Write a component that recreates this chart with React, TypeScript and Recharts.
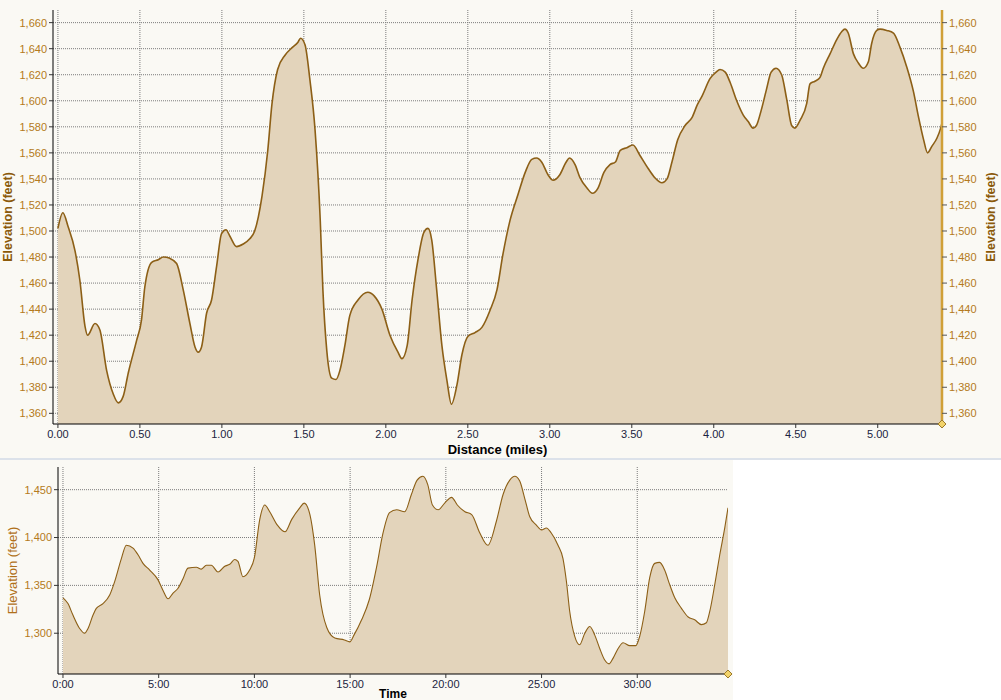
import React from "react";
import { AreaChart, Area, XAxis, YAxis, CartesianGrid, ReferenceDot } from "recharts";

// elevation by distance (miles)
const distanceMiles = [
  0, 0.03, 0.063, 0.104, 0.134, 0.165, 0.181, 0.226, 0.256, 0.297, 0.337, 0.368, 0.398, 0.429, 0.48,
  0.51, 0.53, 0.572, 0.612, 0.643, 0.683, 0.724, 0.764, 0.805, 0.836, 0.856, 0.876, 0.907, 0.937,
  0.968, 0.998, 1.025, 1.049, 1.09, 1.13, 1.17, 1.2, 1.245, 1.28, 1.305, 1.34, 1.385, 1.43, 1.464,
  1.48, 1.507, 1.537, 1.568, 1.6, 1.616, 1.64, 1.67, 1.696, 1.72, 1.75, 1.78, 1.83, 1.89, 1.93,
  1.976, 2.025, 2.074, 2.098, 2.13, 2.16, 2.196, 2.232, 2.257, 2.28, 2.31, 2.342, 2.373, 2.4, 2.434,
  2.464, 2.5, 2.544, 2.586, 2.635, 2.678, 2.714, 2.757, 2.806, 2.85, 2.89, 2.92, 2.95, 2.99, 3.02,
  3.06, 3.1, 3.12, 3.154, 3.184, 3.227, 3.26, 3.294, 3.33, 3.367, 3.4, 3.43, 3.47, 3.507, 3.55, 3.6,
  3.64, 3.684, 3.715, 3.745, 3.78, 3.825, 3.867, 3.9, 3.93, 3.977, 4.014, 4.038, 4.07, 4.1, 4.14,
  4.18, 4.21, 4.24, 4.26, 4.29, 4.32, 4.35, 4.38, 4.414, 4.445, 4.475, 4.495, 4.526, 4.567, 4.587,
  4.617, 4.648, 4.668, 4.709, 4.75, 4.78, 4.8, 4.82, 4.852, 4.882, 4.912, 4.943, 4.963, 4.994,
  5.014, 5.055, 5.096, 5.136, 5.177, 5.218, 5.248, 5.28, 5.304, 5.33, 5.36, 5.384, 5.392,
];
const distanceElev = [
  1502, 1514, 1503, 1485, 1462, 1427, 1420, 1429, 1424, 1393, 1375, 1368, 1373, 1391, 1416,
  1432, 1457, 1476, 1478, 1480, 1479, 1475, 1455, 1429, 1411, 1407, 1411, 1437, 1447,
  1473, 1498, 1501, 1496, 1488, 1490, 1494, 1500, 1527, 1562, 1597, 1624, 1635, 1641, 1645,
  1648, 1643, 1616, 1578, 1508, 1455, 1408, 1387, 1386, 1393, 1412, 1435, 1447, 1453, 1450,
  1440, 1420, 1407, 1402, 1412, 1447, 1478, 1499, 1502, 1493, 1455, 1412, 1385, 1367, 1382,
  1405, 1419, 1422, 1426, 1439, 1455, 1482, 1508, 1528, 1545, 1555, 1556, 1553, 1543, 1539,
  1543, 1553, 1556, 1551, 1541, 1533, 1529, 1533, 1545, 1551, 1553, 1562, 1564, 1566, 1558, 1548,
  1541, 1537, 1540, 1553, 1570, 1581, 1587, 1597, 1604, 1617, 1622, 1624, 1622, 1614, 1600,
  1589, 1584, 1579, 1581, 1593, 1608, 1622, 1625, 1620, 1601, 1581, 1579, 1585, 1598, 1613,
  1615, 1618, 1625, 1636, 1647, 1653, 1655, 1652, 1636, 1629, 1625, 1630, 1644, 1654,
  1655, 1654, 1652, 1641, 1626, 1607, 1588, 1570, 1560, 1565, 1571, 1579, 1583,
];

// elevation by time (minutes)
const timeMinutes = [
  0, 0.26, 0.52, 0.87, 1.13, 1.31, 1.57, 1.74, 2.09, 2.44, 2.7, 3.05, 3.31, 3.66, 3.92, 4.18, 4.53,
  4.96, 5.22, 5.49, 5.75, 6.01, 6.27, 6.53, 6.97, 7.23, 7.49, 7.75, 8.1, 8.45, 8.71, 8.97, 9.14,
  9.4, 9.58, 9.75, 10.0, 10.28, 10.54, 10.8, 11.2, 11.6, 11.95, 12.37, 12.6, 12.9, 13.15, 13.41,
  13.78, 14.2, 14.7, 14.98, 15.2, 15.6, 16.0, 16.4, 16.7, 17.06, 17.43, 17.85, 18.2, 18.5, 18.8,
  19.06, 19.3, 19.6, 19.94, 20.3, 20.6, 21.0, 21.35, 21.77, 22.2, 22.64, 22.99, 23.34, 23.6, 23.86,
  24.12, 24.38, 24.73, 25.0, 25.25, 25.5, 25.86, 26.12, 26.3, 26.47, 26.73, 26.99, 27.26, 27.52,
  27.78, 28.04, 28.3, 28.53, 28.74, 29.0, 29.26, 29.61, 29.92, 30.13, 30.39, 30.65, 30.91, 31.17,
  31.43, 31.69, 31.96, 32.31, 32.66, 33.0, 33.35, 33.61, 33.79, 34.05, 34.31, 34.57, 34.74,
];
const timeElev = [
  1337, 1331, 1319, 1305, 1300, 1305, 1319, 1326, 1331, 1340, 1354, 1378, 1392, 1389, 1382, 1373, 1366,
  1356, 1345, 1336, 1342, 1347, 1357, 1368, 1369, 1367, 1371, 1371, 1364, 1370, 1372, 1377, 1375,
  1359, 1361, 1366, 1379, 1419, 1434, 1427, 1413, 1406, 1419, 1431, 1436, 1424, 1392, 1340,
  1306, 1295, 1293, 1291, 1298, 1314, 1335, 1371, 1403, 1426, 1429, 1427, 1445, 1460, 1464,
  1455, 1434, 1429, 1436, 1442, 1434, 1427, 1424, 1405, 1392, 1417, 1445, 1460, 1464, 1459,
  1441, 1422, 1413, 1408, 1410, 1405, 1392, 1378, 1354, 1323, 1297, 1288, 1300, 1307,
  1298, 1284, 1272, 1268, 1274, 1284, 1290, 1287, 1287, 1297, 1323, 1358, 1373, 1374,
  1366, 1351, 1337, 1326, 1317, 1314, 1309, 1311, 1323, 1351, 1382, 1410, 1431,
];

const distanceTicks = [0, 0.5, 1, 1.5, 2, 2.5, 3, 3.5, 4, 4.5, 5];
const distanceElevTicks = [1360, 1380, 1400, 1420, 1440, 1460, 1480, 1500, 1520, 1540, 1560, 1580, 1600, 1620, 1640, 1660];
const timeTicks = [0, 5, 10, 15, 20, 25, 30];
const timeElevTicks = [1300, 1350, 1400, 1450];

const distanceData = distanceMiles.map((d, i) => ({ d, elev: distanceElev[i] }));
const timeData = timeMinutes.map((t, i) => ({ t, elev: timeElev[i] }));

const BG = "#FAF9F4";
const FILL = "#E3D4BB";
const STROKE = "#8C5F16";
const Y_TICK = "#B47A20";
const X_TICK = "#1A2440";
const TITLE = "#8B5A0A";
const FONT = "'Liberation Sans', Arial, sans-serif";

const fmtElev = (v: number) => v.toLocaleString("en-US");

const Diamond = (props: any) => {
  const { cx, cy } = props;
  if (cx == null || cy == null) return null;
  return (
    <polygon
      points={`${cx - 4},${cy} ${cx},${cy - 4} ${cx + 4},${cy} ${cx},${cy + 4}`}
      fill="#F2D36A"
      stroke="#9C7A2A"
      strokeWidth={1}
    />
  );
};

export default function App() {
  return (
    <div
      style={{
        position: "fixed",
        left: 0,
        top: 0,
        width: 1001,
        height: 700,
        background: "#ffffff",
        fontFamily: FONT,
        overflow: "hidden",
      }}
    >
      <div
        style={{
          position: "absolute",
          left: 0,
          top: 0,
          width: 1001,
          height: 458,
          background: BG,
          borderBottom: "2px solid #DCE2EA",
        }}
      >
        <AreaChart
          width={1001}
          height={458}
          data={distanceData}
          margin={{ top: 10, right: 0, bottom: 0, left: 0 }}
          style={{ fontFamily: FONT }}
        >
          <CartesianGrid stroke="#7c7c7c" strokeDasharray="1 1" horizontalValues={distanceElevTicks} verticalValues={distanceTicks} />
          <XAxis
            dataKey="d"
            type="number"
            domain={[-0.03, 5.392]}
            allowDataOverflow
            ticks={distanceTicks}
            tickFormatter={(v: number) => v.toFixed(2)}
            height={34}
            tickSize={4}
            tickMargin={2}
            axisLine={{ stroke: "#000", strokeWidth: 1 }}
            tickLine={{ stroke: "#333" }}
            tick={{ fill: X_TICK, fontSize: 11 }}
            label={{ value: "Distance (miles)", position: "insideBottom", offset: 4, fill: "#000", fontSize: 13, fontWeight: "bold" }}
          />
          <YAxis
            type="number"
            domain={[1351.8, 1669.7]}
            allowDataOverflow
            ticks={distanceElevTicks}
            tickFormatter={fmtElev}
            width={53}
            tickSize={4}
            tickMargin={2}
            axisLine={{ stroke: "#000", strokeWidth: 1 }}
            tickLine={{ stroke: "#333" }}
            tick={{ fill: Y_TICK, fontSize: 11 }}
            label={{ value: "Elevation (feet)", angle: -90, position: "insideLeft", offset: 8, fill: TITLE, fontSize: 12.5, fontWeight: "bold", style: { textAnchor: "middle" } }}
          />
          <YAxis
            yAxisId="right"
            orientation="right"
            type="number"
            domain={[1351.8, 1669.7]}
            allowDataOverflow
            ticks={distanceElevTicks}
            tickFormatter={fmtElev}
            width={59}
            tickSize={5}
            tickMargin={2}
            axisLine={{ stroke: "#D0A038", strokeWidth: 2.5 }}
            tickLine={{ stroke: "#555" }}
            tick={{ fill: Y_TICK, fontSize: 11 }}
            label={{ value: "Elevation (feet)", angle: -90, position: "insideRight", offset: 10, fill: TITLE, fontSize: 12.5, fontWeight: "bold", style: { textAnchor: "middle" } }}
          />
          <Area
            type="monotone"
            dataKey="elev"
            baseValue="dataMin"
            stroke={STROKE}
            strokeWidth={1.6}
            fill={FILL}
            fillOpacity={1}
            isAnimationActive={false}
            dot={false}
            activeDot={false}
          />
          <Area
            yAxisId="right"
            type="monotone"
            dataKey="elev"
            stroke="none"
            fill="none"
            isAnimationActive={false}
            dot={false}
            activeDot={false}
          />
          <ReferenceDot x={5.392} y={1351.8} ifOverflow="visible" shape={Diamond} />
        </AreaChart>
      </div>

      <div
        style={{
          position: "absolute",
          left: 0,
          top: 460,
          width: 733,
          height: 240,
          background: BG,
        }}
      >
        <AreaChart
          width={733}
          height={240}
          data={timeData}
          margin={{ top: 7, right: 5, bottom: 0, left: 0 }}
          style={{ fontFamily: FONT }}
        >
          <CartesianGrid stroke="#7c7c7c" strokeDasharray="1 1" horizontalValues={timeElevTicks} verticalValues={timeTicks} />
          <XAxis
            dataKey="t"
            type="number"
            domain={[-0.26, 34.74]}
            allowDataOverflow
            ticks={timeTicks}
            tickFormatter={(v: number) => `${v}:00`}
            height={26}
            tickSize={4}
            tickMargin={2}
            axisLine={{ stroke: "#000", strokeWidth: 1 }}
            tickLine={{ stroke: "#333" }}
            tick={{ fill: X_TICK, fontSize: 11 }}
            label={{ value: "Time", position: "insideBottom", offset: 2, fill: "#000", fontSize: 12, fontWeight: "bold" }}
          />
          <YAxis
            type="number"
            domain={[1257.4, 1473.7]}
            allowDataOverflow
            ticks={timeElevTicks}
            tickFormatter={fmtElev}
            width={58}
            tickSize={4}
            tickMargin={2}
            axisLine={{ stroke: "#000", strokeWidth: 1 }}
            tickLine={{ stroke: "#333" }}
            tick={{ fill: Y_TICK, fontSize: 11 }}
            label={{ value: "Elevation (feet)", angle: -90, position: "insideLeft", offset: 12, fill: "#B0701A", fontSize: 13, style: { textAnchor: "middle" } }}
          />
          <Area
            type="monotone"
            dataKey="elev"
            baseValue="dataMin"
            stroke={STROKE}
            strokeWidth={1.1}
            fill={FILL}
            fillOpacity={1}
            isAnimationActive={false}
            dot={false}
            activeDot={false}
          />
          <ReferenceDot x={34.74} y={1257.4} ifOverflow="visible" shape={Diamond} />
        </AreaChart>
      </div>
    </div>
  );
}
